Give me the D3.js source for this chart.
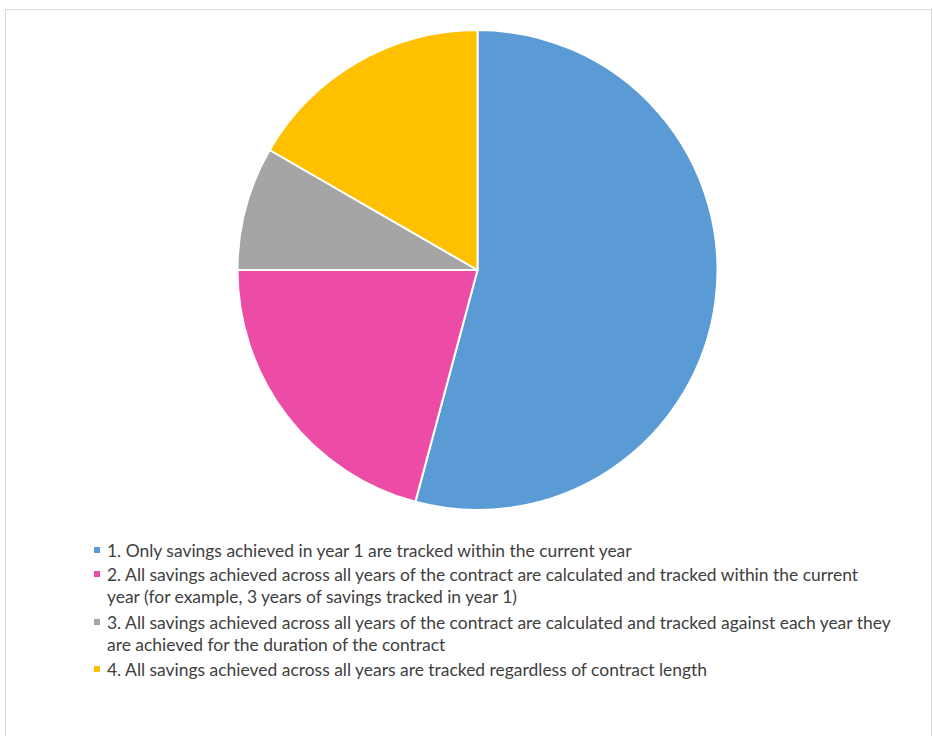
<!DOCTYPE html>
<html>
<head>
<meta charset="utf-8">
<script src="https://cdn.jsdelivr.net/npm/d3@7"></script>
<style>
  body { margin: 0; background: #fff; }
  svg { display: block; }
</style>
</head>
<body>
<svg id="chart"></svg>
<script>
// answer counts
var categories = [
  "1. Only savings achieved in year 1 are tracked within the current year",
  "2. All savings achieved across all years of the contract are calculated and tracked within the current|year (for example, 3 years of savings tracked in year 1)",
  "3. All savings achieved across all years of the contract are calculated and tracked against each year they|are achieved for the duration of the contract",
  "4. All savings achieved across all years are tracked regardless of contract length"
];
var values = [13, 5, 2, 4];
var colors = ["#5B9BD5", "#EC4CA5", "#A5A5A5", "#FFC000"];

var data = categories.map(function (c, i) {
  return { label: c, value: values[i], color: colors[i] };
});

var dimensions = {
  width: 933,
  height: 736,
  cx: 477.5,
  cy: 270,
  radius: 240,
  legend: { x: 94, y: 547, markerSize: 6, textX: 107, firstLineWidth: 525 }
};

var svg = d3
  .select("#chart")
  .attr("width", dimensions.width)
  .attr("height", dimensions.height);

// chart area frame
svg
  .append("rect")
  .attr("x", 5.5)
  .attr("y", 9.5)
  .attr("width", 926)
  .attr("height", 740)
  .attr("fill", "#fff")
  .attr("stroke", "#d9d9d9")
  .attr("stroke-width", 1);

var pie = d3
  .pie()
  .sort(null)
  .value(function (d) {
    return d.value;
  });

var arc = d3.arc().innerRadius(0).outerRadius(dimensions.radius);

svg
  .append("g")
  .attr("transform", "translate(" + dimensions.cx + "," + dimensions.cy + ")")
  .selectAll("path")
  .data(pie(data))
  .enter()
  .append("path")
  .attr("d", arc)
  .attr("fill", function (d) {
    return d.data.color;
  })
  .attr("stroke", "#fff")
  .attr("stroke-width", 2)
  .attr("stroke-linejoin", "round");

// legend
var rowY = [0, 24, 72, 119];
var lineH = 22;

var legend = svg
  .append("g")
  .attr("transform", "translate(0," + dimensions.legend.y + ")");

var items = legend
  .selectAll("g")
  .data(data)
  .enter()
  .append("g")
  .attr("transform", function (d, i) {
    return "translate(0," + rowY[i] + ")";
  });

items
  .append("rect")
  .attr("x", dimensions.legend.x)
  .attr("y", 0)
  .attr("width", dimensions.legend.markerSize)
  .attr("height", dimensions.legend.markerSize)
  .attr("fill", function (d) {
    return d.color;
  });

var texts = items
  .append("text")
  .attr("font-family", "Lato, sans-serif")
  .attr("font-size", "14px")
  .attr("fill", "#404040");

texts
  .selectAll("tspan")
  .data(function (d) {
    return d.label.split("|");
  })
  .enter()
  .append("tspan")
  .attr("x", dimensions.legend.textX)
  .attr("y", function (d, i) {
    return 9.5 + i * lineH;
  })
  .text(function (d) {
    return d;
  });

// size the font so the first legend line spans the same width as the original
var w = texts.node().getComputedTextLength();
var fs = 14 * dimensions.legend.firstLineWidth / w;
texts.attr("font-size", fs + "px");
</script>
</body>
</html>
